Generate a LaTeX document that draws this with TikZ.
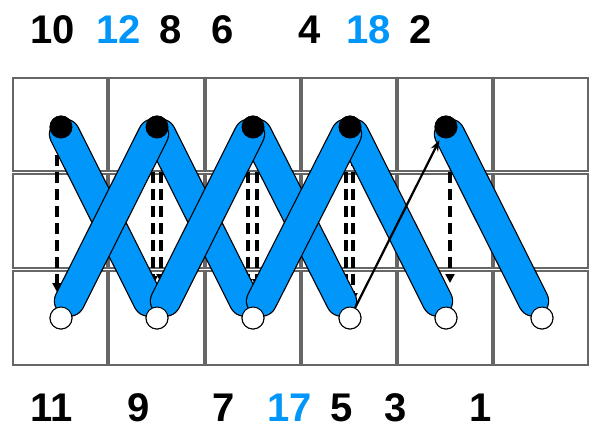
\documentclass[tikz,border=0pt]{standalone}
\usepackage{fontspec}
\setmainfont{Liberation Sans}
\usetikzlibrary{arrows.meta}
\definecolor{stitchblue}{RGB}{0,150,250}
\newcommand\stitch[2]{%
  \draw[bandedge] (#1.center) -- (#2.center);
  \draw[bandfill] (#1.center) -- (#2.center);}
\begin{document}
\begin{tikzpicture}[x=1pt,y=-1pt,
  cell/.style={draw=black!60, line width=1.3pt},
  hole/.style={circle, draw=black, line width=1pt, fill=white, minimum size=22pt, inner sep=0pt},
  knot/.style={circle, fill=black, minimum size=23pt, inner sep=0pt},
  lab/.style={font=\fontsize{40}{40}\selectfont\bfseries, inner sep=0pt},
  bluelab/.style={lab, text=stitchblue},
  back/.style={dash pattern=on 11pt off 6pt, line width=3.6pt, -{Triangle[length=9pt,width=9pt]}, shorten <=11pt},
  bandedge/.style={draw=black, line width=31.5pt, line cap=round, shorten <=8pt, shorten >=19pt},
  bandfill/.style={draw=stitchblue, line width=29pt, line cap=round, shorten <=8pt, shorten >=19pt},
  thread/.style={draw=black, line width=2.2pt, -{Stealth[length=11pt,width=8pt]}, shorten >=3pt}
]
\useasboundingbox (0,0) rectangle (589,429);
% fabric grid
\foreach \xa/\xb in {13/107,109/204,206/300,302/396,398/492,494/588}
  \foreach \ya/\yb in {78/171,174/268,271/365}
    \draw[cell] (\xa,\ya) rectangle (\xb,\yb);
% hole positions
\foreach \n/\x in {60/61,157/157,253/253,350/350,446/446}
  \coordinate (ct\n) at (\x,127);
\foreach \n/\x in {60/61,157/157,253/253,350/350,446/446,542/542}
  \coordinate (cb\n) at (\x,318);
\path (ct60) node[knot] (t60) {} (ct157) node[knot] (t157) {} (ct253) node[knot] (t253) {}
      (ct350) node[knot] (t350) {} (ct446) node[knot] (t446) {};
\path (cb60) node[hole] (b60) {} (cb157) node[hole] (b157) {} (cb253) node[hole] (b253) {}
      (cb350) node[hole] (b350) {} (cb446) node[hole] (b446) {} (cb542) node[hole] (b542) {};
% back stitches (dashed)
\draw[back, shorten >=26pt] ([xshift=-4pt]t60.center) -- ([xshift=-4pt]b60.center);
\draw[back, shorten >=33pt] ([xshift=-4pt]t157.center) -- ([xshift=-4pt]b157.center);
\draw[back, shorten >=35pt] ([xshift=4pt]t157.center) -- ([xshift=4pt]b157.center);
\draw[back, shorten >=30pt] ([xshift=-5pt]t253.center) -- ([xshift=-5pt]b253.center);
\draw[back, shorten >=30pt] ([xshift=4pt]t253.center) -- ([xshift=4pt]b253.center);
\draw[back, shorten >=18pt] ([xshift=-4pt]t350.center) -- ([xshift=-4pt]b350.center);
\draw[back, shorten >=16pt] ([xshift=3pt]t350.center) -- ([xshift=3pt]b350.center);
\draw[back, shorten >=35pt] ([xshift=4pt]t446.center) -- ([xshift=4pt]b446.center);
% front stitches, first pass
\stitch{t446}{b542}
\stitch{t350}{b446}
\stitch{t253}{b350}
\stitch{t157}{b253}
\stitch{t60}{b157}
% front stitches, return pass
\stitch{t157}{b60}
\stitch{t253}{b157}
\stitch{t350}{b253}
% thread 17 -> 18
\draw[thread] (b350) -- (t446);
% holes on top
\path (ct60) node[knot] {} (ct157) node[knot] {} (ct253) node[knot] {}
      (ct350) node[knot] {} (ct446) node[knot] {};
\path (cb60) node[hole] {} (cb157) node[hole] {} (cb253) node[hole] {}
      (cb350) node[hole] {} (cb446) node[hole] {} (cb542) node[hole] {};
% labels
\node[lab] (l10) at (53,30) {10};
\node[bluelab] (l12) at (119,30) {12};
\node[lab] (l8) at (171,30) {8};
\node[lab] (l6) at (223,30) {6};
\node[lab] (l4) at (310,30) {4};
\node[bluelab] (l18) at (369,30) {18};
\node[lab] (l2) at (421,30) {2};
\node[lab] (l11) at (52,408) {11};
\node[lab] (l9) at (139,408) {9};
\node[lab] (l7) at (224,408) {7};
\node[bluelab] (l17) at (290,408) {17};
\node[lab] (l5) at (342,408) {5};
\node[lab] (l3) at (396,408) {3};
\node[lab] (l1) at (481,408) {1};
\end{tikzpicture}
\end{document}
